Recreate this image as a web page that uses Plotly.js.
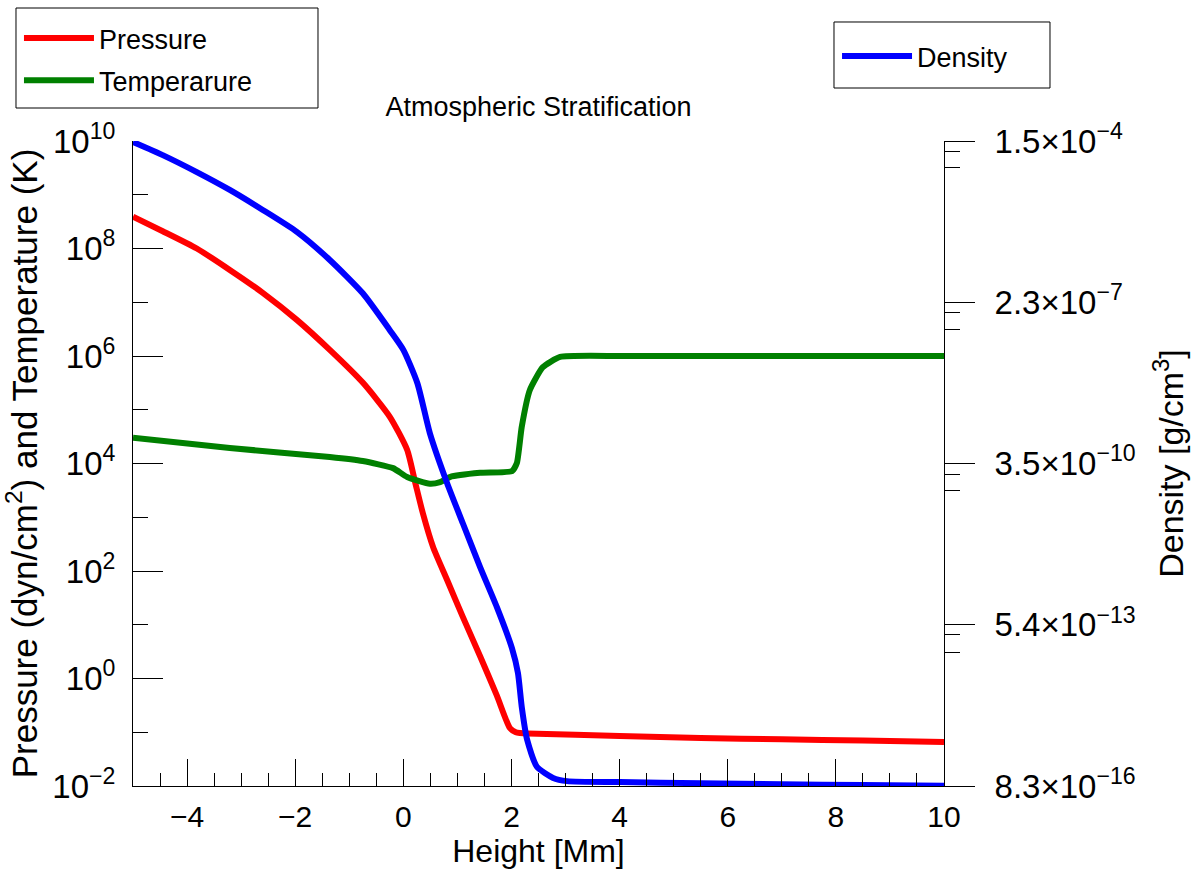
<!DOCTYPE html>
<html>
<head>
<meta charset="utf-8">
<script src="https://cdn.plot.ly/plotly-3.0.1.min.js"></script>
<style>html,body{margin:0;padding:0;background:#fff}</style>
</head>
<body>
<div id="chart" style="width:1200px;height:872px"></div>
<script>
// values; heights in Mm
const pressureHeight = [-5, -4.45, -3.82, -3.21, -2.6, -1.97, -1.36, -0.75, -0.25, 0.07, 0.22, 0.36, 0.55, 0.81, 1.1, 1.42, 1.73, 1.97, 2.08, 2.16, 2.3, 4, 5.5, 7, 8.5, 10];
const pressure = [3.9e8, 2.1e8, 1.0e8, 4.0e7, 1.5e7, 4.7e6, 1.3e6, 3.2e5, 7.4e4, 1.8e4, 4.4e3, 1.2e3, 2.8e2, 68, 14, 2.6, 0.48, 0.12, 0.1, 0.097, 0.095, 0.085, 0.078, 0.074, 0.07, 0.066];

const temperatureHeight = [-5, -3.21, -1.36, -0.75, -0.19, 0.07, 0.49, 0.68, 0.86, 1.42, 2.01, 2.1, 2.19, 2.34, 2.58, 2.9, 4, 5.5, 7, 8.5, 10];
const temperature = [3.0e4, 1.94e4, 1.32e4, 1.11e4, 8.2e3, 5.6e3, 4.2e3, 4.5e3, 5.6e3, 6.7e3, 7.2e3, 1.02e4, 4.8e4, 2.33e5, 6.2e5, 9.6e5, 1.0e6, 1.0e6, 1.0e6, 1.0e6, 1.0e6];

const densityHeight = [-5, -4.45, -3.82, -3.21, -2.6, -1.97, -1.36, -0.75, -0.25, 0, 0.26, 0.49, 0.81, 1.1, 1.42, 1.73, 2.01, 2.12, 2.19, 2.29, 2.47, 2.77, 3.03, 4, 5.5, 7, 8.5, 10];
const density = [1.44e-4, 8.5e-5, 4.3e-5, 2.1e-5, 9.4e-6, 3.9e-6, 1.26e-6, 3.3e-7, 7.5e-8, 3.4e-8, 8.9e-9, 1.2e-9, 1.6e-10, 3.2e-11, 5.5e-12, 1.1e-12, 2.1e-13, 7.8e-14, 2.0e-14, 5.3e-15, 1.8e-15, 1.15e-15, 1.01e-15, 9.7e-16, 9.3e-16, 8.9e-16, 8.6e-16, 8.4e-16];

// axis ticks
const leftTickVals = [1e-2, 1, 1e2, 1e4, 1e6, 1e8, 1e10];
const leftTickText = ['10<sup>\u22122</sup>', '10<sup>0</sup>', '10<sup>2</sup>', '10<sup>4</sup>', '10<sup>6</sup>', '10<sup>8</sup>', '10<sup>10</sup>'];
const leftMinorVals = [1e-1, 1e1, 1e3, 1e5, 1e7, 1e9];

const densityRange = [8.3e-16, 1.5e-4];
const densityTickVals = [8.3e-16, 5.4e-13, 3.5e-10, 2.3e-7, 1.5e-4];
const densityTickText = ['8.3\u00d710<sup>\u221216</sup>', '5.4\u00d710<sup>\u221213</sup>', '3.5\u00d710<sup>\u221210</sup>', '2.3\u00d710<sup>\u22127</sup>', '1.5\u00d710<sup>\u22124</sup>'];
const densityMinorVals = [1.8e-13, 3.6e-13, 1.2e-10, 2.3e-10, 7.8e-8, 1.5e-7, 5.1e-5, 1.0e-4];

const FONT = 'Liberation Sans, Arial, Helvetica, sans-serif';

const traces = [
  {
    x: pressureHeight, y: pressure, type: 'scatter', mode: 'lines',
    name: 'Pressure', legend: 'legend', legendgroup: 'p',
    line: {color: '#ff0000', width: 6, shape: 'spline', smoothing: 0.6}
  },
  {
    x: temperatureHeight, y: temperature, type: 'scatter', mode: 'lines',
    name: 'Temperarure', legend: 'legend', legendgroup: 't',
    line: {color: '#008000', width: 6, shape: 'spline', smoothing: 0.5}
  },
  {
    x: densityHeight, y: density, type: 'scatter', mode: 'lines', yaxis: 'y2',
    name: 'Density', legend: 'legend2',
    line: {color: '#0000ff', width: 6, shape: 'spline', smoothing: 0.6}
  }
];

const legendStyle = {
  xanchor: 'left', yanchor: 'top',
  borderwidth: 0, bgcolor: 'rgba(0,0,0,0)',
  font: {family: FONT, size: 27, color: 'black'},
  itemwidth: 70
};

// legend frames (paper coordinates of the plot area)
const frame = {type: 'rect', xref: 'paper', yref: 'paper', line: {color: 'black', width: 1}, fillcolor: 'white', layer: 'below'};

const layout = {
  width: 1200, height: 872,
  margin: {l: 133, r: 256, t: 141, b: 86, autoexpand: false},
  paper_bgcolor: 'white', plot_bgcolor: 'white',
  font: {family: FONT, color: 'black', size: 33},
  title: {
    text: 'Atmospheric Stratification',
    font: {family: FONT, size: 27, color: 'black'},
    x: 0.5, xref: 'paper', y: 1 - 107 / 872, yref: 'container', yanchor: 'middle'
  },
  showlegend: true,
  legend: Object.assign({}, legendStyle, {x: -0.1406, y: 1.1969, traceorder: 'grouped', tracegroupgap: 4}),
  legend2: Object.assign({}, legendStyle, {x: 0.8681, y: 1.1690}),
  shapes: [
    Object.assign({}, frame, {x0: -0.14427, x1: 0.22811, y0: 1.05116, y1: 1.20620}),
    Object.assign({}, frame, {x0: 0.86436, x1: 1.13070, y0: 1.08217, y1: 1.18450})
  ],
  xaxis: {
    range: [-5, 10], tick0: 0, dtick: 2,
    ticks: 'inside', ticklen: 27, tickwidth: 1, tickcolor: 'black',
    minor: {tick0: 0, dtick: 0.5, ticks: 'inside', ticklen: 13, tickwidth: 1, tickcolor: 'black', showgrid: false},
    showline: true, linecolor: 'black', linewidth: 1,
    showgrid: false, zeroline: false,
    tickfont: {size: 30}, ticklabelstandoff: 4,
    title: {text: 'Height [Mm]', font: {size: 32}, standoff: 3}
  },
  yaxis: {
    type: 'log', range: [-2, 10],
    tickmode: 'array', tickvals: leftTickVals, ticktext: leftTickText,
    ticks: 'inside', ticklen: 30, tickwidth: 1, tickcolor: 'black',
    minor: {tickmode: 'array', tickvals: leftMinorVals, ticks: 'inside', ticklen: 15, tickwidth: 1, tickcolor: 'black', showgrid: false},
    showline: true, linecolor: 'black', linewidth: 1,
    showgrid: false, zeroline: false,
    tickfont: {size: 33}, ticklabelstandoff: 10,
    title: {text: 'Pressure (dyn/cm<sup>2</sup>) and Temperature (K)', font: {size: 35}, standoff: 7}
  },
  yaxis2: {
    type: 'log', overlaying: 'y', side: 'right',
    range: [Math.log10(densityRange[0]), Math.log10(densityRange[1])],
    tickmode: 'array', tickvals: densityTickVals, ticktext: densityTickText,
    ticks: 'outside', ticklen: 30, tickwidth: 1, tickcolor: 'black',
    minor: {tickmode: 'array', tickvals: densityMinorVals, ticks: 'outside', ticklen: 15, tickwidth: 1, tickcolor: 'black', showgrid: false},
    showline: true, linecolor: 'black', linewidth: 1,
    showgrid: false, zeroline: false,
    tickfont: {size: 33}, ticklabelstandoff: 13,
    title: {text: 'Density [g/cm<sup>3</sup>]', font: {size: 34}, standoff: 24}
  }
};

Plotly.newPlot('chart', traces, layout, {staticPlot: true, displayModeBar: false});
</script>
</body>
</html>
